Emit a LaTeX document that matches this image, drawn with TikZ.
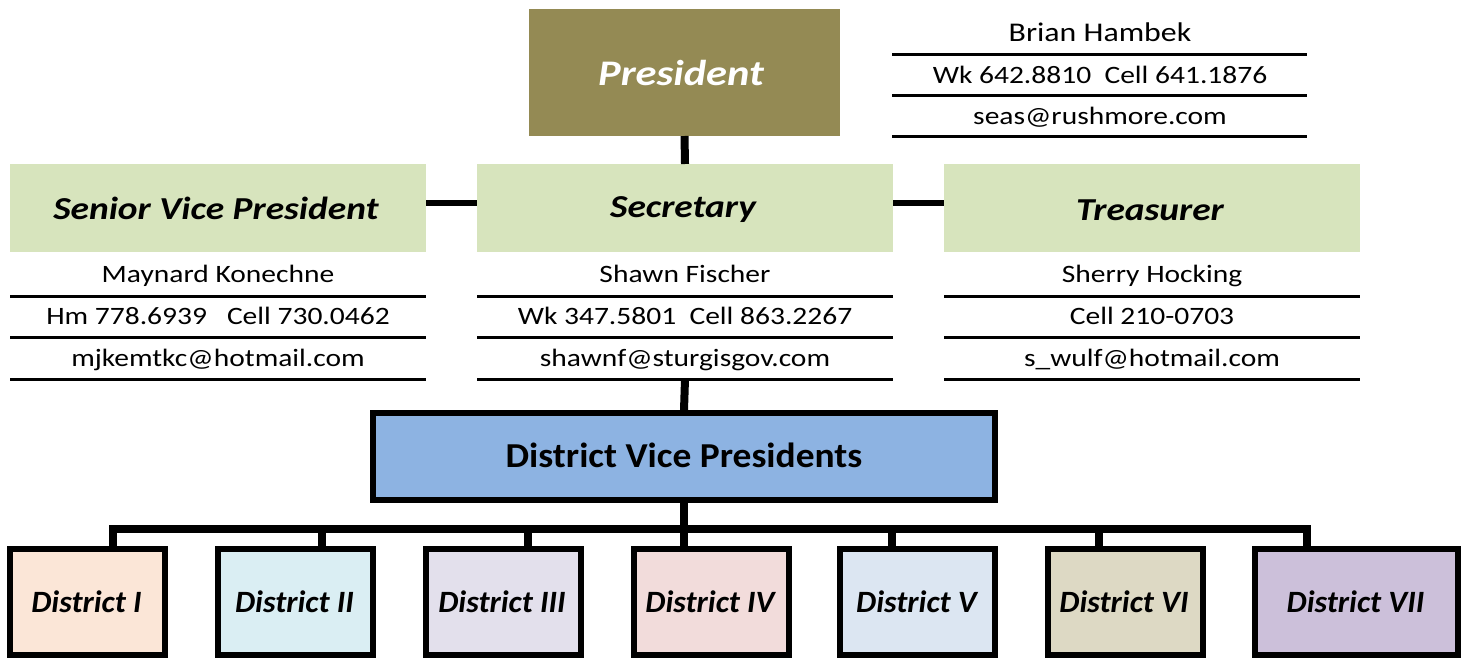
\documentclass[tikz,border=0pt]{standalone}
\usepackage{graphicx}
\usepackage{fontspec}
\setmainfont{Carlito}
\definecolor{presol}{HTML}{948A54}
\definecolor{lgreen}{HTML}{D7E4BD}
\definecolor{dvpblue}{HTML}{8DB3E2}
\definecolor{dA}{HTML}{FBE6D7}
\definecolor{dB}{HTML}{DAEEF3}
\definecolor{dC}{HTML}{E3E0EC}
\definecolor{dD}{HTML}{F2DCDB}
\definecolor{dE}{HTML}{DCE6F2}
\definecolor{dF}{HTML}{DDD9C4}
\definecolor{dG}{HTML}{CCC0DA}
\newcommand\hstretch[2]{\scalebox{#1}[1]{#2}}
\tikzset{
  capc/.style={text height=#1, text depth=0pt},
  presbox/.style={fill=presol, minimum width=311pt, minimum height=127pt, inner sep=0pt, outer sep=0pt},
  prestext/.style={capc=23.2pt, inner sep=0pt, text=white, font=\fontsize{36}{42}\selectfont\bfseries\itshape},
  officebox/.style={fill=lgreen, minimum width=416pt, minimum height=88pt, inner sep=0pt, outer sep=0pt},
  officetext/.style={capc=20.6pt, inner sep=0pt, font=\fontsize{32}{38}\selectfont\bfseries\itshape},
  infotext/.style={inner sep=0pt, capc=16.1pt, font=\fontsize{25}{30}\selectfont},
  infoline/.style={line width=3pt},
  dvpbox/.style={fill=dvpblue, draw=black, line width=6pt, minimum width=622pt, minimum height=87pt, inner sep=0pt,
    capc=22.5pt, font=\fontsize{35}{41}\selectfont\bfseries},
  distbox/.style={draw=black, line width=6pt, minimum width=155pt, minimum height=106pt, inner sep=0pt},
  disttext/.style={capc=20pt, inner sep=0pt, font=\fontsize{31}{37}\selectfont\bfseries\itshape},
  vconn/.style={line width=8pt},
  hconn/.style={line width=6pt},
}
\begin{document}
\begin{tikzpicture}[x=1pt, y=-1pt, line join=miter]
\useasboundingbox (0,0) rectangle (1466,658);

% President
\node[presbox] (pres) at (684.5,72.5) {};
\node[prestext] (prestxt) at (681,73.5) {\hstretch{1.18}{President}};
% Brian Hambek info
\node[infotext, capc=17.4pt, font=\fontsize{27}{32}\selectfont] (bname) at (1100,33) {\hstretch{1.18}{Brian Hambek}};
\node[infotext] (bphone) at (1100,75) {\hstretch{1.18}{Wk 642.8810~ Cell 641.1876}};
\node[infotext] (bmail) at (1100,116) {\hstretch{1.18}{seas@rushmore.com}};
\coordinate (bl1a) at (892,55); \coordinate (bl1b) at (1307,55);
\coordinate (bl2a) at (892,96); \coordinate (bl2b) at (1307,96);
\coordinate (bl3a) at (892,136); \coordinate (bl3b) at (1307,136);
\draw[infoline] (bl1a) -- (bl1b);
\draw[infoline] (bl2a) -- (bl2b);
\draw[infoline] (bl3a) -- (bl3b);

% Officers
\node[officebox] (svp) at (218,208) {};
\node[officebox] (sec) at (685,208) {};
\node[officebox] (tre) at (1152,208) {};
\node[officetext] (svptxt) at (216,209.5) {\hstretch{1.17}{Senior Vice President}};
\node[officetext] (sectxt) at (683,207) {\hstretch{1.17}{Secretary}};
\node[officetext] (tretxt) at (1150,210) {\hstretch{1.17}{Treasurer}};

% Officer info
\foreach \cx/\nm/\ph/\em/\id in {218/Maynard Konechne/{Hm 778.6939~~ Cell 730.0462}/mjkemtkc@hotmail.com/a,
                                 685/Shawn Fischer/{Wk 347.5801~ Cell 863.2267}/shawnf@sturgisgov.com/b,
                                 1152/Sherry Hocking/{Cell 210-0703}/s\_wulf@hotmail.com/c}{
  \node[infotext] (name\id) at (\cx,274.5) {\hstretch{1.18}{\nm}};
  \node[infotext] (phone\id) at (\cx,316.5) {\hstretch{1.18}{\ph}};
  \node[infotext] (mail\id) at (\cx,358.5) {\hstretch{1.18}{\em}};
  \coordinate (l1a\id) at (\cx-208,296); \coordinate (l1b\id) at (\cx+208,296);
  \coordinate (l2a\id) at (\cx-208,337); \coordinate (l2b\id) at (\cx+208,337);
  \coordinate (l3a\id) at (\cx-208,379); \coordinate (l3b\id) at (\cx+208,379);
  \draw[infoline] (l1a\id) -- (l1b\id);
  \draw[infoline] (l2a\id) -- (l2b\id);
  \draw[infoline] (l3a\id) -- (l3b\id);
}

% District Vice Presidents
\node[dvpbox] (dvp) at (684,456.5) {\hstretch{1.07}{District Vice Presidents}};

% Districts
\node[distbox, fill=dA] (d1) at (87.5,602) {};
\node[distbox, fill=dB] (d2) at (295.5,602) {};
\node[distbox, fill=dC] (d3) at (503,602) {};
\node[distbox, fill=dD] (d4) at (711,602) {};
\node[distbox, fill=dE] (d5) at (917.5,602) {};
\node[distbox, fill=dF] (d6) at (1125,602) {};
\node[distbox, fill=dG, minimum width=203pt] (d7) at (1356.5,602) {};
\foreach \n/\lab in {1/District I,2/District II,3/District III,4/District IV,5/District V,6/District VI,7/District VII}{
  \node[disttext] (t\n) at ([xshift=-1pt]d\n.center) {\hstretch{1.03}{\lab}};
}

% Connectors
\coordinate (secbot) at (685,379);
\draw[vconn] (pres.south) -- (sec.north);
\draw[hconn] ([yshift=5pt]svp.east) -- ([yshift=5pt]sec.west);
\draw[hconn] ([yshift=5pt]sec.east) -- ([yshift=5pt]tre.west);
\draw[vconn] (secbot) -- (dvp.north);

\coordinate (b1) at (113,529);
\coordinate (b2) at (322,529);
\coordinate (b3) at (528,529);
\coordinate (b4) at (684,529);
\coordinate (b5) at (892,529);
\coordinate (b6) at (1099,529);
\coordinate (b7) at (1307,529);
\draw[vconn] (dvp.south) -- (b4);
\draw[vconn] (b1 |- d1.north) -- (b1) -- (b7) -- (b7 |- d7.north);
\draw[vconn] (b2) -- (b2 |- d2.north);
\draw[vconn] (b3) -- (b3 |- d3.north);
\draw[vconn] (b4) -- (b4 |- d4.north);
\draw[vconn] (b5) -- (b5 |- d5.north);
\draw[vconn] (b6) -- (b6 |- d6.north);
\end{tikzpicture}
\end{document}
